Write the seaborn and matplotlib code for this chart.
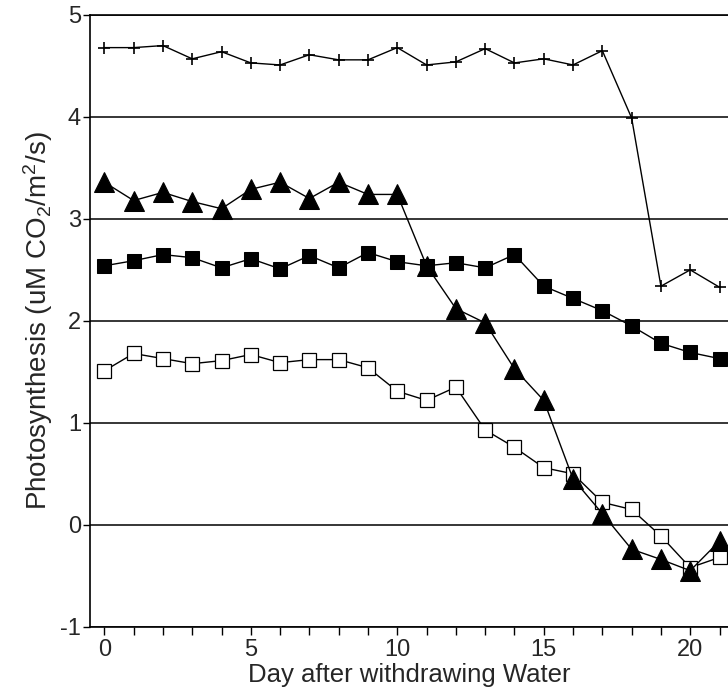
import numpy as np
import pandas as pd
import matplotlib
matplotlib.use("Agg")
import matplotlib.pyplot as plt
import seaborn as sns

days = list(range(22))
plus_vals = [4.68, 4.68, 4.70, 4.57, 4.64, 4.53, 4.51, 4.61, 4.56, 4.56, 4.68,
             4.51, 4.54, 4.67, 4.53, 4.57, 4.51, 4.65, 3.99, 2.34, 2.50, 2.33]
tri_vals = [3.36, 3.18, 3.26, 3.17, 3.10, 3.29, 3.36, 3.20, 3.36, 3.24, 3.24,
            2.54, 2.12, 1.98, 1.53, 1.22, 0.45, 0.11, -0.24, -0.34, -0.45, -0.16]
filled_sq_vals = [2.54, 2.59, 2.65, 2.62, 2.52, 2.61, 2.51, 2.64, 2.52, 2.67, 2.58,
                  2.54, 2.57, 2.52, 2.65, 2.34, 2.22, 2.10, 1.95, 1.78, 1.69, 1.63]
open_sq_vals = [1.51, 1.68, 1.63, 1.58, 1.61, 1.67, 1.59, 1.62, 1.62, 1.54, 1.31,
                1.22, 1.35, 0.93, 0.76, 0.56, 0.50, 0.22, 0.15, -0.11, -0.42, -0.32]
x_ticks = [0, 5, 10, 15, 20]
y_ticks = [-1, 0, 1, 2, 3, 4, 5]
x_label = "Day after withdrawing Water"
y_label = "Photosynthesis (uM CO$_2$/m$^2$/s)"

sns.set_theme(style="white")
plt.rcParams['font.family'] = ['Liberation Sans', 'DejaVu Sans']
plt.rcParams['mathtext.default'] = 'regular'
plt.rcParams['axes.unicode_minus'] = False

fig = plt.figure(figsize=(7.28, 6.97), dpi=100)
ax = fig.add_axes([0.1236, 0.1008, 0.8764, 0.8777])

df = pd.DataFrame({"day": days, "plus": plus_vals, "tri": tri_vals,
                   "filled": filled_sq_vals, "open": open_sq_vals})

for y_val in y_ticks:
    ax.axhline(y_val, color="black", lw=1.1, zorder=1)

sns.lineplot(data=df, x="day", y="open", ax=ax, color="black", lw=1.0,
             marker="s", markersize=9.5, markerfacecolor="white",
             markeredgecolor="black", markeredgewidth=0.9, zorder=3)
sns.lineplot(data=df, x="day", y="filled", ax=ax, color="black", lw=1.0,
             marker="s", markersize=9.5, markerfacecolor="black",
             markeredgecolor="black", zorder=4)
sns.lineplot(data=df, x="day", y="tri", ax=ax, color="black", lw=1.0,
             marker="^", markersize=14, markerfacecolor="black",
             markeredgecolor="black", zorder=5)
sns.lineplot(data=df, x="day", y="plus", ax=ax, color="black", lw=1.0,
             marker="+", markersize=8.5, markeredgewidth=1.2,
             markeredgecolor="black", zorder=6)

ax.set_xlim(-0.49, 21.29)
ax.set_ylim(-1, 5)
ax.set_xticks(range(22), minor=True)
ax.set_xticks(x_ticks)
ax.set_yticks(y_ticks)
ax.tick_params(axis="x", which="both", direction="out", length=6, width=1,
               color="black", bottom=True, labelsize=17, pad=3)
ax.tick_params(axis="y", direction="out", length=5, width=1, color="black",
               left=True, labelsize=17, pad=1.5)
for side in ["left", "bottom", "top"]:
    ax.spines[side].set_color("black")
    ax.spines[side].set_linewidth(1.2)
ax.spines["right"].set_visible(False)
ax.set_xlabel(x_label, fontsize=18.5, labelpad=1)
ax.set_ylabel(y_label, fontsize=20, labelpad=4)
ax.grid(False)

fig.savefig("out.png", dpi=100)
